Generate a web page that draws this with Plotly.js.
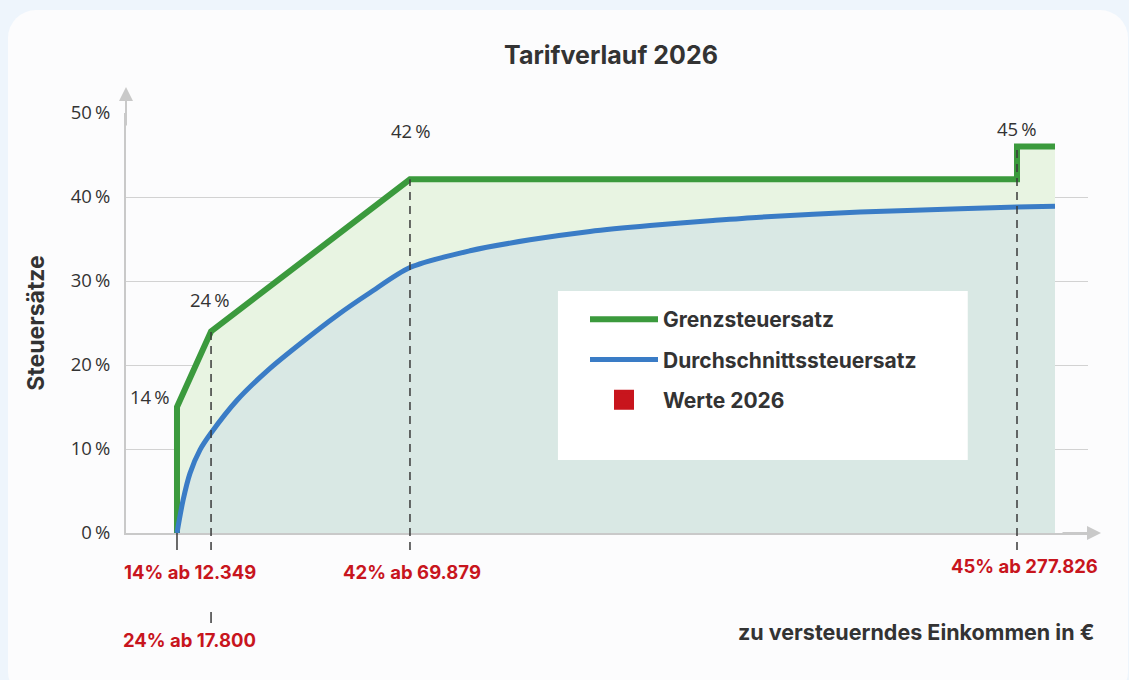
<!DOCTYPE html>
<html>
<head>
<meta charset="utf-8">
<script src="https://cdn.plot.ly/plotly-3.0.1.min.js"></script>
<style>
  html, body { margin: 0; padding: 0; width: 1129px; height: 680px; overflow: hidden; background: #eef5fc; }
  #card { position: absolute; left: 8px; top: 10px; width: 1120px; height: 690px; border-radius: 28px; background: #fcfcfd; }
  #chart { position: absolute; left: 0; top: 0; width: 1129px; height: 680px; }
</style>
</head>
<body>
<div id="card"></div>
<div id="chart"></div>
<script>
// ---- data (schematic x-axis: positions 0..100) ----
const bracketIncome   = ['12.349', '17.800', '69.879', '277.826'];
const bracketRate     = [14, 24, 42, 45];            // nominal rates (labels)
const bracketX        = [5.3, 8.84, 29.52, 92.62];  // schematic position of each bracket start

// Grenzsteuersatz (marginal rate) as drawn
const marginalX = [5.3, 5.3, 8.84, 29.52, 92.62, 92.62, 96.57];
const marginalY = [0, 15, 24, 42.1, 42.1, 46, 46];

// Durchschnittssteuersatz (average rate) as drawn
const averageX = [5.3, 5.93, 6.65, 7.69, 8.84, 11.54, 14.97, 18.40, 21.93, 25.36, 29.52, 35.76, 41.99, 48.23, 54.47, 61.02, 65.90, 76.30, 86.69, 92.62, 96.57];
const averageY = [0, 3.9, 7.1, 9.9, 11.9, 15.8, 19.6, 22.8, 25.9, 28.6, 31.6, 33.6, 34.9, 35.9, 36.6, 37.2, 37.6, 38.2, 38.6, 38.8, 38.9];

const yTicks = [0, 10, 20, 30, 40, 50];

// ---- styles ----
const GREEN = '#3b9a3d', BLUE = '#3a7cc6', RED = '#c8151d', DARK = '#333333';
const BOLD = 'Inter, "Open Sans", sans-serif';
const REG = '"Open Sans", "Noto Sans", sans-serif';

const traces = [
  { x: marginalX, y: marginalY, type: 'scatter', mode: 'lines', fill: 'tozeroy',
    fillcolor: '#e8f4e2', line: { width: 0, color: 'rgba(0,0,0,0)' }, showlegend: false, hoverinfo: 'skip' },
  { x: averageX, y: averageY, type: 'scatter', mode: 'lines', fill: 'tozeroy',
    fillcolor: '#d9e8e4', line: { width: 0, shape: 'spline', smoothing: 0.8, color: 'rgba(0,0,0,0)' }, showlegend: false, hoverinfo: 'skip' },
  { x: marginalX, y: marginalY, type: 'scatter', mode: 'lines', name: 'Grenzsteuersatz',
    legendgroup: 'g', line: { color: GREEN, width: 6 } },
  { x: averageX, y: averageY, type: 'scatter', mode: 'lines', name: 'Durchschnittssteuersatz',
    legendgroup: 'b', line: { color: BLUE, width: 5, shape: 'spline', smoothing: 0.8 } },
  { x: [null], y: [null], type: 'scatter', mode: 'markers', name: 'Werte 2026',
    legendgroup: 'r', marker: { symbol: 'square', size: 16, color: RED, line: { color: RED, width: 4 } } }
];

// pixel helpers for paper y (plot area 113..533 px)
const plotTop = 113, plotBottom = 533, plotH = plotBottom - plotTop;
const py = p => (plotBottom - p) / plotH;

const shapes = [
  // legend panel
  { type: 'rect', xref: 'x', yref: 'y', x0: 44.9, x1: 87.5, y0: 8.7, y1: 28.8,
    fillcolor: '#ffffff', line: { width: 0 }, layer: 'above' }
];
// dashed drop lines from the marginal-rate corners down below the axis
const dashStyle = { color: '#3a3a3a', width: 1.5, dash: '8px,6px' };
const dropTop = [24, 42.1, 46];
[1, 2, 3].forEach((i, k) => {
  shapes.push({ type: 'line', xref: 'x', yref: 'paper', x0: bracketX[i], x1: bracketX[i],
    y0: py(550), y1: dropTop[k] / 50, line: dashStyle });
});
// solid tick under 12.349
shapes.push({ type: 'line', xref: 'x', yref: 'paper', x0: bracketX[0], x1: bracketX[0], y0: py(550), y1: py(533),
  line: { color: '#3a3a3a', width: 1.5 } });
// small connector tick above the second row label
shapes.push({ type: 'line', xref: 'x', yref: 'paper', x0: bracketX[1], x1: bracketX[1], y0: py(623), y1: py(612),
  line: { color: '#3a3a3a', width: 1.5 } });

const annotations = [];
// rate labels over the curve
const rateLabelPos = [
  { x: bracketX[0], y: 15, xshift: -27, yshift: 11 },
  { x: bracketX[1], y: 24, xshift: -1, yshift: 32 },
  { x: bracketX[2], y: 42.1, xshift: 1, yshift: 49 },
  { x: bracketX[3], y: 46, xshift: 0, yshift: 18 }
];
bracketRate.forEach((r, i) => {
  annotations.push({ x: rateLabelPos[i].x, y: rateLabelPos[i].y, xref: 'x', yref: 'y',
    text: r + '\u2009%', showarrow: false, xshift: rateLabelPos[i].xshift, yshift: rateLabelPos[i].yshift,
    font: { family: REG, size: 18.5, color: DARK } });
});
// red bracket labels under the axis
const redPos = [
  { shift: 13, y: 572 }, { shift: -22, y: 640 }, { shift: 2, y: 572 }, { shift: 7, y: 566 }
];
bracketRate.forEach((r, i) => {
  annotations.push({ x: bracketX[i], y: py(redPos[i].y), xref: 'x', yref: 'paper', yanchor: 'middle',
    text: '<b>' + r + '% ab ' + bracketIncome[i] + '</b>', showarrow: false, xshift: redPos[i].shift,
    font: { family: BOLD, size: 18.5, color: RED } });
});
// x axis title (right aligned)
annotations.push({ x: (1096 - 126) / 962, y: py(632), xref: 'paper', yref: 'paper', xanchor: 'right', yanchor: 'middle',
  text: '<b>zu versteuerndes Einkommen in €</b>', showarrow: false,
  font: { family: BOLD, size: 21.5, color: DARK } });
// axis arrows
annotations.push({ x: (1101 - 126) / 962, y: 0, xref: 'paper', yref: 'paper', ax: -40, ay: 0, text: '',
  showarrow: true, arrowhead: 2, arrowsize: 1.4, arrowwidth: 2, arrowcolor: '#c9c9c9' });
annotations.push({ x: 0, y: py(87), xref: 'paper', yref: 'paper', ax: 0, ay: 40, text: '',
  showarrow: true, arrowhead: 2, arrowsize: 1.4, arrowwidth: 2, arrowcolor: '#c9c9c9' });

const layout = {
  width: 1129, height: 680,
  paper_bgcolor: 'rgba(0,0,0,0)', plot_bgcolor: 'rgba(0,0,0,0)',
  margin: { l: 126, r: 41, t: plotTop, b: 680 - plotBottom, pad: 0 },
  title: { text: '<b>Tarifverlauf 2026</b>', xref: 'container', x: 611 / 1129, xanchor: 'center',
    yref: 'container', y: 1 - 55 / 680, yanchor: 'middle', font: { family: BOLD, size: 25, color: DARK } },
  xaxis: { range: [0, 100], showgrid: false, zeroline: false, showticklabels: false, ticks: '',
    showline: true, linecolor: '#c9c9c9', linewidth: 2, fixedrange: true },
  yaxis: { range: [0, 50], tickvals: yTicks, ticktext: yTicks.map(v => v + '\u2009%'),
    showgrid: true, gridcolor: '#d2d2d2', gridwidth: 1, zeroline: false,
    showline: true, linecolor: '#c9c9c9', linewidth: 2, ticks: '', ticklabelstandoff: 10,
    tickfont: { family: REG, size: 18.5, color: DARK },
    title: { text: '<b>Steuersätze</b>', standoff: 20, font: { family: BOLD, size: 23, color: DARK } },
    fixedrange: true },
  showlegend: true,
  legend: { x: (585 - 126) / 962, xanchor: 'left', y: py(299), yanchor: 'top',
    bgcolor: 'rgba(0,0,0,0)', itemwidth: 68, tracegroupgap: 10, traceorder: 'grouped',
    font: { family: BOLD, size: 21, color: DARK, weight: 700 } },
  shapes: shapes,
  annotations: annotations
};

Plotly.newPlot('chart', traces, layout, { displayModeBar: false, staticPlot: true });
</script>
</body>
</html>
